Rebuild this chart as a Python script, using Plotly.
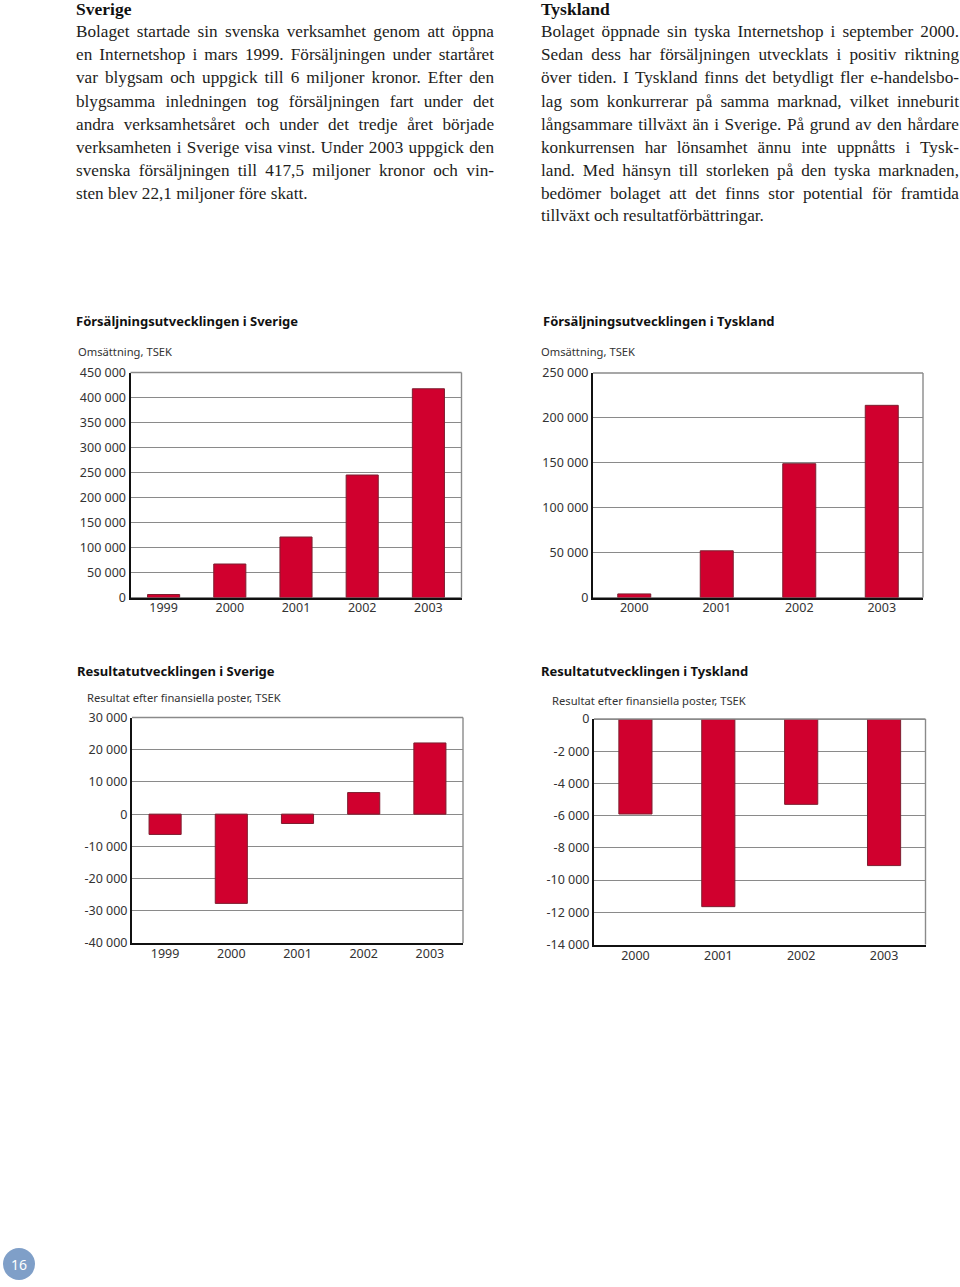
import json
import plotly.graph_objects as go

W, H = 960, 1287
SERIF = "Liberation Serif"
SANS = "Noto Sans"
RED = "#d0002e"
BAR_EDGE = "#7d1f30"
GRID = "#8a8a8a"
INK = "#1d1d1b"

years_se = ["1999", "2000", "2001", "2002", "2003"]
years_de = ["2000", "2001", "2002", "2003"]

sales_se = [6000, 67000, 121000, 245000, 417500]
sales_de = [4000, 52000, 149000, 214000]
result_se = [-6300, -27700, -2900, 6700, 22100]
result_de = [-5900, -11650, -5300, -9100]

ticks_sales_se = [0, 50000, 100000, 150000, 200000, 250000, 300000, 350000, 400000, 450000]
ticks_sales_de = [0, 50000, 100000, 150000, 200000, 250000]
ticks_result_se = [-40000, -30000, -20000, -10000, 0, 10000, 20000, 30000]
ticks_result_de = [-14000, -12000, -10000, -8000, -6000, -4000, -2000, 0]

text_se = [
    "Bolaget startade sin svenska verksamhet genom att öppna",
    "en Internetshop i mars 1999. Försäljningen under startåret",
    "var blygsam och uppgick till 6 miljoner kronor. Efter den",
    "blygsamma inledningen tog försäljningen fart under det",
    "andra verksamhetsåret och under det tredje året började",
    "verksamheten i Sverige visa vinst. Under 2003 uppgick den",
    "svenska försäljningen till 417,5 miljoner kronor och vin-",
    "sten blev 22,1 miljoner före skatt.",
]
text_de = [
    "Bolaget öppnade sin tyska Internetshop i september 2000.",
    "Sedan dess har försäljningen utvecklats i positiv riktning",
    "över tiden. I Tyskland finns det betydligt fler e-handelsbo-",
    "lag som konkurrerar på samma marknad, vilket inneburit",
    "långsammare tillväxt än i Sverige. På grund av den hårdare",
    "konkurrensen har lönsamhet ännu inte uppnåtts i Tysk-",
    "land. Med hänsyn till storleken på den tyska marknaden,",
    "bedömer bolaget att det finns stor potential för framtida",
    "tillväxt och resultatförbättringar.",
]

def fmt(v):
    return f"{v:,}".replace(",", " ")

panels = [
    dict(cats=years_se, vals=sales_se, ticks=ticks_sales_se, box=(130.5, 461.5, 372.5, 597.5),
         width=0.485, off=-3,
         title="Försäljningsutvecklingen i Sverige", tx=75, ty=321,
         sub="Omsättning, TSEK", sx=77, sy=351),
    dict(cats=years_de, vals=sales_de, ticks=ticks_sales_de, box=(593, 923, 373, 597.5),
         width=0.4, off=-3,
         title="Försäljningsutvecklingen i Tyskland", tx=542, ty=321,
         sub="Omsättning, TSEK", sx=540, sy=351),
    dict(cats=years_se, vals=result_se, ticks=ticks_result_se, box=(132, 463, 717.5, 943),
         width=0.485, off=-2,
         title="Resultatutvecklingen i Sverige", tx=76, ty=671,
         sub="Resultat efter finansiella poster, TSEK", sx=86, sy=697),
    dict(cats=years_de, vals=result_de, ticks=ticks_result_de, box=(594, 925.5, 719, 944.5),
         width=0.4, off=-2,
         title="Resultatutvecklingen i Tyskland", tx=540, ty=671,
         sub="Resultat efter finansiella poster, TSEK", sx=551, sy=700),
]

fig = go.Figure()
annotations, shapes = [], []

def label(x, y, text, size, family, color=INK, anchor="left"):
    annotations.append(dict(
        x=x / W, y=1 - y / H, xref="paper", yref="paper", text=text, showarrow=False,
        xanchor=anchor, yanchor="middle", align=anchor, borderpad=0,
        font=dict(size=size, family=family, color=color)))

for i, p in enumerate(panels, start=1):
    x0, x1, y0, y1 = p["box"]
    suffix = "" if i == 1 else str(i)
    fig.add_trace(go.Bar(
        x=p["cats"], y=p["vals"], xaxis=f"x{suffix}", yaxis=f"y{suffix}", width=p["width"],
        marker=dict(color=RED, line=dict(color=BAR_EDGE, width=1)), showlegend=False))
    fig.layout[f"xaxis{suffix}"] = dict(
        domain=[x0 / W, x1 / W], anchor=f"y{suffix}", type="category", side="bottom",
        showline=True, linecolor="#111111", linewidth=2.4, ticks="", showgrid=False, zeroline=False,
        ticklabelstandoff=p["off"],
        tickfont=dict(size=12.5, family=SANS, color="#333333"))
    fig.layout[f"yaxis{suffix}"] = dict(
        domain=[1 - y1 / H, 1 - y0 / H], anchor=f"x{suffix}",
        range=[min(p["ticks"]), max(p["ticks"])], tickmode="array",
        tickvals=p["ticks"], ticktext=[fmt(t) for t in p["ticks"]],
        showline=True, linecolor="#111111", linewidth=2, ticks="",
        showgrid=True, gridcolor=GRID, gridwidth=1.4,
        zeroline=True, zerolinecolor=GRID, zerolinewidth=1.4,
        tickfont=dict(size=12.5, family=SANS, color="#333333"))
    # grey top and right edges of the plot frame
    for a, b, c, d in [(0, 1, 1, 1), (1, 1, 0, 1)]:
        shapes.append(dict(type="line", xref=f"x{suffix} domain", yref=f"y{suffix} domain",
                           x0=a, x1=b, y0=c, y1=d, line=dict(color=GRID, width=1.4)))
    label(p["tx"], p["ty"], f"<b>{p['title']}</b>", 13, SANS, "#111111")
    label(p["sx"], p["sy"], p["sub"], 11.2, SANS, "#333333")

label(75, 9, "<b>Sverige</b>", 17.5, SERIF, "#111111")
label(540, 9, "<b>Tyskland</b>", 17.5, SERIF, "#111111")
for n, line in enumerate(text_se):
    label(75, 32 + 23 * n, line, 17.2, SERIF)
for n, line in enumerate(text_de):
    label(540, 32 + 23 * n, line, 17.2, SERIF)

shapes.append(dict(type="circle", xref="paper", yref="paper",
                   x0=3 / W, x1=35 / W, y0=1 - 1280 / H, y1=1 - 1248 / H,
                   fillcolor="#7f9fc8", line=dict(width=0), layer="below"))
label(19, 1264, "16", 14, SANS, "#ffffff", anchor="center")

fig.update_layout(width=W, height=H, margin=dict(l=0, r=0, t=0, b=0, autoexpand=False),
                  paper_bgcolor="white", plot_bgcolor="white",
                  annotations=annotations, shapes=shapes)

justified = json.dumps(text_se[:-1] + text_de[:-1])
post = """
document.documentElement.style.overflow = 'hidden';
document.body.style.margin = '0';
var lines = %s;
document.querySelectorAll('.annotation-text').forEach(function (t) {
  var s = t.textContent;
  if (lines.indexOf(s) < 0) return;
  var gaps = s.split(' ').length - 1;
  var extra = (418 - t.getComputedTextLength()) / gaps;
  t.style.wordSpacing = extra.toFixed(2) + 'px';
});
""" % justified
fig.write_html("out.html", post_script=post, config={"displayModeBar": False})
